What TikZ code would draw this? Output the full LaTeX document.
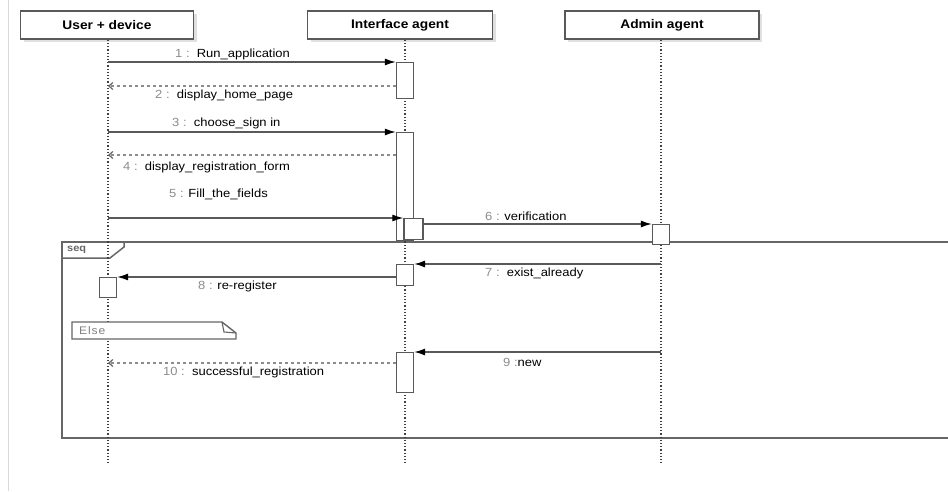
\documentclass[tikz,border=0pt]{standalone}
\usepackage{fontspec}
\setmainfont{Liberation Sans}[FakeStretch=1.1]
\usetikzlibrary{arrows.meta,shadows}
\newcommand\msgno[1]{\textcolor{black!45}{#1\ :}}
\begin{document}
\begin{tikzpicture}[x=1pt,y=-1pt,
  head/.style={draw=black!65,line width=1.4pt,fill=white,minimum height=28pt,inner sep=0pt,
    font=\fontsize{12.5}{14}\selectfont\bfseries,
    drop shadow={shadow xshift=3pt,shadow yshift=-3pt,fill=black!20,opacity=.6}},
  life/.style={black!75,dotted,line width=1.2pt},
  act/.style={draw=black!65,line width=1.4pt,fill=white,minimum width=17pt,anchor=north,inner sep=0pt},
  call/.style={black!65,line width=1.2pt,-{Latex[length=11pt,width=7pt,black]}},
  reply/.style={black!45,dash pattern=on 3pt off 3pt,line width=1.2pt,-{Straight Barb[length=4pt,width=7pt,black!60]}},
  lbl/.style={anchor=west,inner sep=0pt,font=\fontsize{11.8}{13}\selectfont},
  frame/.style={black!60,line width=1.5pt}]
\useasboundingbox (0,0) rectangle (948,491);
\draw[black!15] (8,0) -- (8,491);

\node[head,minimum width=173pt] (user) at (107,25) {User + device};
\node[head,minimum width=185pt] (iface) at (400,25) {Interface agent};
\node[head,minimum width=194pt] (admin) at (662,25) {Admin agent};

\draw[frame] (953,242) -- (62,242) -- (62,438) -- (953,438);
\draw[frame] (62,258) -- (110,258) -- (124,247) -- (124,242);
\node[anchor=west,inner sep=0pt,text=black!60,font=\fontsize{10}{11}\selectfont\bfseries] (seq) at (67,250) {seq};

\coordinate (ul) at (108,465);
\coordinate (il) at (405,465);
\coordinate (al) at (661,465);
\draw[life] (user.south -| ul) -- (ul);
\draw[life] (iface.south -| il) -- (il);
\draw[life] (admin.south -| al) -- (al);

\draw[black!60,line width=1.4pt,fill=white] (72,322) -- (222,322) -- (236,333) -- (236,339) -- (72,339) -- cycle;
\draw[black!60,line width=1.1pt] (222,322) -- (224,332) -- (236,333);
\node[anchor=west,inner sep=0pt,text=black!50,font=\fontsize{11}{12}\selectfont\addfontfeature{LetterSpace=8}] (else) at (79,331) {Else};

\node[act,minimum height=36pt] (a1) at (405,62) {};
\node[act,minimum height=108pt] (a2) at (405,132) {};
\node[act,minimum width=19pt,minimum height=21pt] (a3) at (413.5,218) {};
\node[act,minimum height=20pt] (a4) at (661,224) {};
\node[act,minimum height=21pt] (a5) at (405,264) {};
\node[act,minimum height=20pt] (a6) at (108,277) {};
\node[act,minimum height=40pt] (a7) at (405,352) {};

\draw[call] (ul |- a1.north) -- (a1.north west);
\draw[reply] (a1.west |- 0,86) -- (ul |- 0,86);
\draw[call] (ul |- a2.north) -- (a2.north west);
\draw[reply] (a2.west |- 0,155) -- (ul |- 0,155);
\draw[call] (ul |- a3.north) -- (a3.north west);
\draw[call] (a3.east |- a4.north) -- (a4.north west);
\draw[call] (al |- a5.north) -- (a5.north east);
\draw[call] (a5.west |- a6.north) -- (a6.north east);
\draw[call] (al |- a7.north) -- (a7.north east);
\draw[reply] (a7.west |- 0,363) -- (ul |- 0,363);

\node[lbl] (l1) at (175,54) {\msgno{1}\ \ Run\_application};
\node[lbl] (l2) at (155,95) {\msgno{2}\ \ display\_home\_page};
\node[lbl] (l3) at (172,123) {\msgno{3}\ \ choose\_sign in};
\node[lbl] (l4) at (123,167) {\msgno{4}\ \ display\_registration\_form};
\node[lbl] (l5) at (169,194) {\msgno{5} Fill\_the\_fields};
\node[lbl] (l6) at (485,216) {\msgno{6} verification};
\node[lbl] (l7) at (485,273) {\msgno{7}\ \ exist\_already};
\node[lbl] (l8) at (198,286) {\msgno{8} re-register};
\node[lbl] (l9) at (503,362) {\textcolor{black!45}{9\ :}new};
\node[lbl] (l10) at (163,372) {\msgno{10}\ \ successful\_registration};
\end{tikzpicture}
\end{document}
